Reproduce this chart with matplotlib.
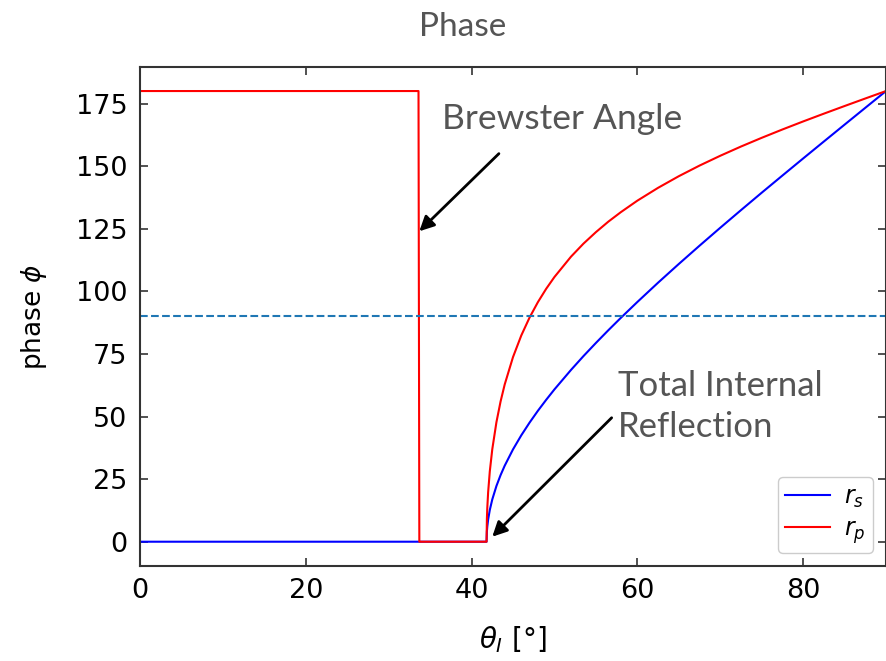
import matplotlib
matplotlib.use("Agg")
import matplotlib.pyplot as plt

# incidence angle (deg) and reflection phase (deg), glass -> air
theta_s = [0, 41.81, 41.85, 41.9, 42, 42.2, 42.5, 43, 43.5, 44, 45, 46, 47, 48,
           49, 50, 52, 53.5, 55, 56.5, 58, 60, 62.5, 65, 67.5, 70, 72.5, 75,
           77.5, 80, 82.5, 85, 87.5, 90]
phase_s = [0, 0, 4.06, 6.07, 8.84, 12.67, 16.89, 22.25, 26.59, 30.37, 36.87,
           42.50, 47.58, 52.28, 56.66, 60.84, 68.62, 74.13, 79.38, 84.46, 89.38,
           95.74, 103.45, 110.92, 118.22, 125.38, 132.42, 139.38, 146.24,
           153.06, 159.83, 166.57, 173.29, 180]

theta_p = [0, 33.6, 33.7, 41.81, 41.85, 41.9, 42, 42.2, 42.5, 43, 43.5, 44, 45,
           46, 47, 48, 49, 50, 52, 53.5, 55, 56.5, 58, 60, 62.5, 65, 67.5, 70,
           72.5, 75, 77.5, 80, 82.5, 85, 87.5, 90]
phase_p = [180, 180, 0, 0, 9.12, 13.61, 19.72, 28.06, 36.93, 47.72, 56.00,
           62.82, 73.74, 82.38, 89.55, 95.67, 101.00, 105.73, 113.86, 119.05,
           123.64, 127.83, 131.60, 136.21, 141.34, 145.98, 150.22, 154.14,
           157.83, 161.31, 164.64, 167.85, 170.96, 174.01, 177.02, 180]

brewster = (33.7, 124)
brewster_tail = (43.3, 155)
tir = (42.5, 2)
tir_tail = (56.9, 49.5)

txt_color = "#555555"
soft = dict(family=["Lato", "DejaVu Sans"], color=txt_color)

fig = plt.figure(figsize=(8.87, 6.61), dpi=100)
ax = fig.add_axes([140 / 887, 1 - 566 / 661, 746 / 887, 499 / 661])

ax.plot(theta_s, phase_s, color="blue", lw=1.5, label=r"$r_s$")
ax.plot(theta_p, phase_p, color="red", lw=1.5, label=r"$r_p$")
ax.axhline(90, color="#1f77b4", ls="--", lw=1.5)

ax.set_xlim(0, 90)
ax.set_ylim(-9.7, 189.6)
ax.set_xticks([0, 20, 40, 60, 80])
ax.set_yticks([0, 25, 50, 75, 100, 125, 150, 175])
ax.tick_params(direction="in", top=True, right=True, labelsize=19.5,
               length=6, width=1.2, color="#333333", pad=9)
for s in ax.spines.values():
    s.set_color("#333333")
    s.set_linewidth(1.5)

ax.set_xlabel(r"$\theta_I$ [°]", fontsize=20, labelpad=14)
ax.set_ylabel(r"phase $\phi$", fontsize=19, labelpad=19)

ax.annotate("", xy=brewster, xytext=brewster_tail,
            arrowprops=dict(arrowstyle="-|>", color="black", lw=2,
                            mutation_scale=22, shrinkA=0, shrinkB=0))
ax.annotate("", xy=tir, xytext=tir_tail,
            arrowprops=dict(arrowstyle="-|>", color="black", lw=2,
                            mutation_scale=22, shrinkA=0, shrinkB=0))
ax.text(36.4, 169, "Brewster Angle", fontsize=25.5, va="center", ha="left", **soft)
ax.text(57.7, 54, "Total Internal\nReflection", fontsize=25, va="center",
        ha="left", linespacing=1.35, **soft)

ax.legend(loc="lower right", fontsize=17, handlelength=1.9,
          handletextpad=0.6, labelspacing=0.3, borderpad=0.3,
          borderaxespad=0.55, framealpha=1, edgecolor="#cccccc")

fig.text(463 / 887, 1 - 27 / 661, "Phase", fontsize=24, ha="center",
         va="center", **soft)

fig.savefig("out.png", dpi=100)
